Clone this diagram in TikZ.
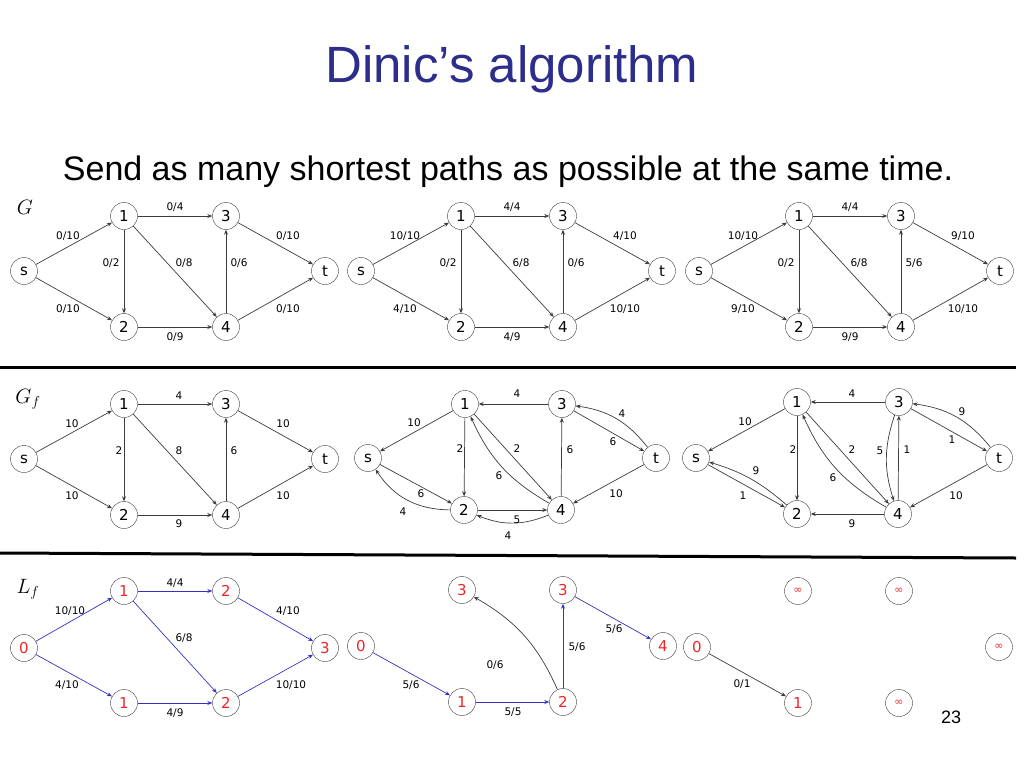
\documentclass[tikz,border=0pt]{standalone}
\usepackage{fontspec}
\setmainfont{DejaVu Sans}
\newfontfamily\titlefont{Liberation Sans}
\usetikzlibrary{arrows.meta}
\definecolor{ttl}{RGB}{45,45,140}
\definecolor{ln}{RGB}{60,60,60}
\definecolor{bl}{RGB}{50,50,190}
\definecolor{rd}{RGB}{235,40,40}
\begin{document}
\begin{tikzpicture}[x=1pt,y=-1pt,
  v/.style={circle,draw=ln,fill=white,minimum size=27pt,inner sep=0pt,font=\fontsize{15}{15}\selectfont},
  vr/.style={v,text=rd},
  el/.style={font=\fontsize{10.5}{10.5}\selectfont,inner sep=1pt},
  e/.style={draw=ln,line width=0.7pt,-{Stealth[length=5pt,width=4pt]}},
  eb/.style={e,draw=bl}]
\useasboundingbox (0,0) rectangle (1024,768);
\node (title) at (512,69) {\titlefont\fontsize{51}{51}\selectfont\color{ttl}Dinic’s algorithm};
\node (sub) at (508,172) {\titlefont\fontsize{34}{34}\selectfont Send as many shortest paths as possible at the same time.};
\node (lG) at (25,207) {\fontsize{21}{21}\selectfont$G$};
\node (lGf) at (28,399) {\fontsize{21}{21}\selectfont$G_f$};
\node (lLf) at (28,589) {\fontsize{21}{21}\selectfont$L_f$};
\node (pg) at (951,717) {\titlefont\fontsize{18}{18}\selectfont 23};
\draw[line width=3pt] (0,367) -- (1016,367);
\draw[line width=3pt] (0,553) -- (1016,558);
% ---------- G row ----------
\foreach \p/\dx/\a/\b/\c/\d/\ee/\f/\g/\h/\i in {A/0/0\slash 10/0\slash 10/0\slash 4/0\slash 2/0\slash 8/0\slash 6/0\slash 9/0\slash 10/0\slash 10,
  B/337/10\slash 10/4\slash 10/4\slash 4/0\slash 2/6\slash 8/0\slash 6/4\slash 9/4\slash 10/10\slash 10,
  C/675/10\slash 10/9\slash 10/4\slash 4/0\slash 2/6\slash 8/5\slash 6/9\slash 9/9\slash 10/10\slash 10}{
\begin{scope}[shift={(\dx,0)}]
\node[v] (\p s) at (24,271) {s};
\node[v] (\p 1) at (124,216) {1};
\node[v] (\p 3) at (226,216) {3};
\node[v] (\p t) at (325,271) {t};
\node[v] (\p 2) at (124,327) {2};
\node[v] (\p 4) at (226,327) {4};
\draw[e] (\p s) -- (\p 1); \draw[e] (\p s) -- (\p 2);
\draw[e] (\p 1) -- (\p 3); \draw[e] (\p 1) -- (\p 2);
\draw[e] (\p 1) -- (\p 4); \draw[e] (\p 4) -- (\p 3);
\draw[e] (\p 2) -- (\p 4); \draw[e] (\p 3) -- (\p t);
\draw[e] (\p 4) -- (\p t);
\node[el] at (68,236) {\a};
\node[el] at (68,309) {\b};
\node[el] at (175,207) {\c};
\node[el] at (111,263) {\d};
\node[el] at (184,263) {\ee};
\node[el] at (239,263) {\f};
\node[el] at (175,337) {\g};
\node[el] at (288,236) {\h};
\node[el] at (288,309) {\i};
\end{scope}}
% ---------- Gf left ----------
\node[v] (Ds) at (24,459) {s};
\node[v] (D1) at (124,404) {1};
\node[v] (D3) at (226,404) {3};
\node[v] (Dt) at (325,459) {t};
\node[v] (D2) at (124,515) {2};
\node[v] (D4) at (226,515) {4};
\draw[e] (Ds) -- (D1); \draw[e] (Ds) -- (D2);
\draw[e] (D1) -- (D3); \draw[e] (D1) -- (D2);
\draw[e] (D1) -- (D4); \draw[e] (D4) -- (D3);
\draw[e] (D2) -- (D4); \draw[e] (D3) -- (Dt);
\draw[e] (D4) -- (Dt);
\node[el] at (179,396) {4}; \node[el] at (72,424) {10};
\node[el] at (119,451) {2}; \node[el] at (179,451) {8};
\node[el] at (234,451) {6}; \node[el] at (283,424) {10};
\node[el] at (72,496) {10}; \node[el] at (283,496) {10};
\node[el] at (179,524) {9};
% ---------- Gf middle ----------
\node[v] (Es) at (368,458) {s};
\node[v] (E1) at (465,404) {1};
\node[v] (E3) at (562,404) {3};
\node[v] (Et) at (656,458) {t};
\node[v] (E2) at (464,510) {2};
\node[v] (E4) at (561,510) {4};
\draw[e] (E3) -- (E1); \draw[e] (E1) -- (Es);
\draw[e] (E1) -- (E2); \draw[e] (E1) -- (E4);
\draw[e] (E4) to[bend left=18] (E1);
\draw[e] (E4) -- (E3); \draw[e] (E3) -- (Et);
\draw[e] (Et) to[bend right=22] (E3);
\draw[e] (Et) -- (E4); \draw[e] (Es) -- (E2);
\draw[e] (E2) to[bend left=28] (Es);
\draw[e] (E2) -- (E4);
\draw[e] (E4) to[bend left=22] (E2);
\node[el] at (517,394) {4}; \node[el] at (414,423) {10};
\node[el] at (460,449) {2}; \node[el] at (517,449) {2};
\node[el] at (499,476) {6}; \node[el] at (570,450) {6};
\node[el] at (613,442) {6}; \node[el] at (622,414) {4};
\node[el] at (616,494) {10}; \node[el] at (421,494) {6};
\node[el] at (403,512) {4}; \node[el] at (517,520) {5};
\node[el] at (508,536) {4};
% ---------- Gf right ----------
\node[v] (Fs) at (696,458) {s};
\node[v] (F1) at (797,402) {1};
\node[v] (F3) at (899,402) {3};
\node[v] (Ft) at (999,458) {t};
\node[v] (F2) at (797,514) {2};
\node[v] (F4) at (898,514) {4};
\draw[e] (F3) -- (F1); \draw[e] (F1) -- (Fs);
\draw[e] (F1) -- (F2); \draw[e] (F1) -- (F4);
\draw[e] (F4) to[bend left=18] (F1);
\draw[e] (F3) to[bend right=18] (F4);
\draw[e] (F4) -- (F3); \draw[e] (F3) -- (Ft);
\draw[e] (Ft) to[bend right=22] (F3);
\draw[e] (Ft) -- (F4); \draw[e] (Fs) -- (F2);
\draw[e] (F2) to[bend right=12] (Fs);
\draw[e] (F4) -- (F2);
\node[el] at (852,394) {4}; \node[el] at (745,422) {10};
\node[el] at (793,450) {2}; \node[el] at (852,450) {2};
\node[el] at (833,478) {6}; \node[el] at (880,451) {5};
\node[el] at (907,450) {1}; \node[el] at (952,440) {1};
\node[el] at (962,412) {9}; \node[el] at (956,496) {10};
\node[el] at (743,496) {1}; \node[el] at (756,471) {9};
\node[el] at (852,524) {9};
% ---------- Lf left ----------
\node[vr] (L0) at (24,648) {0};
\node[vr] (L1) at (124,591) {1};
\node[vr] (L2) at (226,591) {2};
\node[vr] (L3) at (325,648) {3};
\node[vr] (L1b) at (124,703) {1};
\node[vr] (L2b) at (226,703) {2};
\draw[eb] (L0) -- (L1); \draw[eb] (L1) -- (L2);
\draw[eb] (L1) -- (L2b); \draw[eb] (L2) -- (L3);
\draw[eb] (L0) -- (L1b); \draw[eb] (L1b) -- (L2b);
\draw[eb] (L2b) -- (L3);
\node[el] at (70,611) {10/10}; \node[el] at (175,583) {4/4};
\node[el] at (184,638) {6/8}; \node[el] at (288,611) {4/10};
\node[el] at (67,685) {4/10}; \node[el] at (175,713) {4/9};
\node[el] at (291,685) {10/10};
% ---------- Lf middle ----------
\node[vr] (M0) at (361,646) {0};
\node[vr] (M3a) at (462,590) {3};
\node[vr] (M3b) at (563,590) {3};
\node[vr] (M4) at (663,646) {4};
\node[vr] (M1) at (462,702) {1};
\node[vr] (M2) at (563,702) {2};
\draw[eb] (M0) -- (M1); \draw[eb] (M1) -- (M2);
\draw[e] (M2) to[bend right=18] (M3a);
\draw[eb] (M2) -- (M3b); \draw[eb] (M3b) -- (M4);
\node[el] at (411,685) {5/6}; \node[el] at (513,712) {5/5};
\node[el] at (495,665) {0/6}; \node[el] at (577,647) {5/6};
\node[el] at (614,629) {5/6};
% ---------- Lf right ----------
\node[vr] (N0) at (697,647) {0};
\node[vr] (Na) at (798,591) {\fontsize{11}{11}\selectfont∞};
\node[vr] (Nb) at (899,591) {\fontsize{11}{11}\selectfont∞};
\node[vr] (Nc) at (999,647) {\fontsize{11}{11}\selectfont∞};
\node[vr] (N1) at (798,703) {1};
\node[vr] (Nd) at (899,703) {\fontsize{11}{11}\selectfont∞};
\draw[e] (N0) -- (N1);
\node[el] at (742,684) {0/1};
\end{tikzpicture}
\end{document}
